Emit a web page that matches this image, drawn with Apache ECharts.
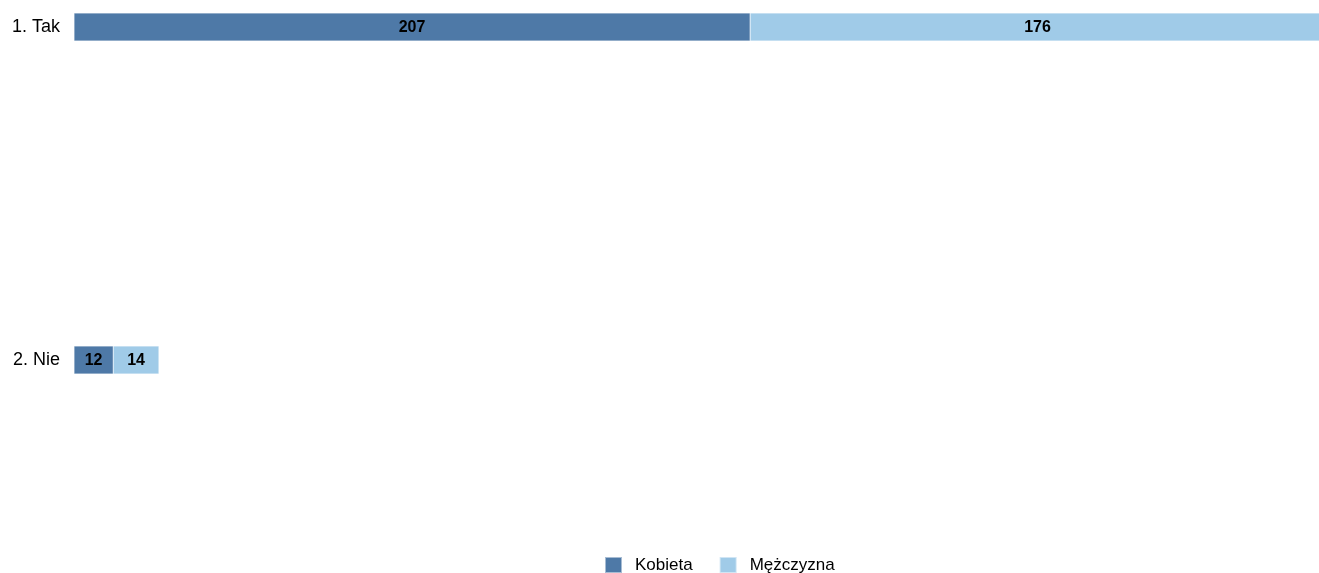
<!DOCTYPE html>
<html>
<head>
<meta charset="utf-8">
<script src="https://cdn.jsdelivr.net/npm/echarts@6/dist/echarts.min.js"></script>
<style>
  html, body { margin: 0; padding: 0; background: #fff; overflow: hidden; }
  #chart { width: 1325px; height: 573px; }
</style>
</head>
<body>
<div id="chart"></div>
<script>
var categories = ["1. Tak", "2. Nie"];
var kobieta = [207, 12];
var mezczyzna = [176, 14];
var seriesNames = ["Kobieta", "Mężczyzna"];

var chart = echarts.init(document.getElementById("chart"));

var labelStyle = {
  show: true,
  position: "inside",
  offset: [0, 1],
  color: "#000",
  fontWeight: "bold",
  fontSize: 16,
  fontFamily: "Liberation Sans, Arial, sans-serif",
};

var option = {
  animation: false,
  color: ["#4e79a7", "#a0cbe8"],
  legend: {
    data: seriesNames,
    top: 556,
    left: 604,
    padding: 0,
    itemWidth: 17,
    itemHeight: 16,
    itemGap: 26,
    icon: "rect",
    textStyle: {
      fontSize: 17,
      color: "#000",
      fontFamily: "Liberation Sans, Arial, sans-serif",
      padding: [0, 0, 0, 8],
    },
  },
  grid: {
    left: 74,
    right: 0,
    top: 27,
    bottom: 213,
    containLabel: false,
  },
  xAxis: {
    type: "value",
    min: 0,
    max: 383,
    show: false,
  },
  yAxis: {
    type: "category",
    inverse: true,
    boundaryGap: false,
    data: categories,
    axisLine: { show: false },
    axisTick: { show: false },
    splitLine: { show: false },
    axisLabel: {
      fontSize: 18,
      color: "#000",
      margin: 14,
      fontFamily: "Liberation Sans, Arial, sans-serif",
    },
  },
  series: [
    {
      name: seriesNames[0],
      type: "bar",
      stack: "total",
      barWidth: 28,
      data: kobieta,
      label: labelStyle,
      itemStyle: { borderColor: "rgba(255,255,255,0.5)", borderWidth: 0.5 },
    },
    {
      name: seriesNames[1],
      type: "bar",
      stack: "total",
      barWidth: 28,
      data: mezczyzna,
      label: labelStyle,
      itemStyle: { borderColor: "rgba(255,255,255,0.5)", borderWidth: 0.5 },
    },
  ],
};

chart.setOption(option);
window.addEventListener("resize", function () {
  chart.resize();
});
</script>
</body>
</html>
